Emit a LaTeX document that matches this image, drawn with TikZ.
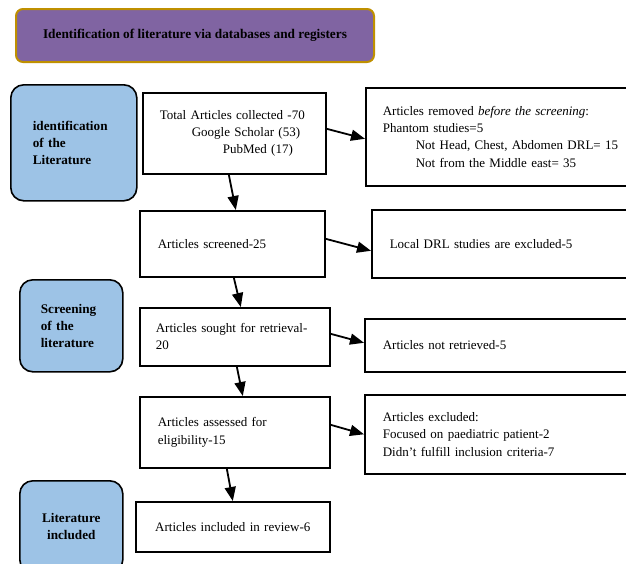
\documentclass[tikz,border=0pt]{standalone}
\usepackage{fontspec}
\setmainfont{Liberation Serif}
\usetikzlibrary{arrows.meta}
\definecolor{titlefill}{HTML}{8064A2}
\definecolor{titleline}{HTML}{BF9000}
\definecolor{stagefill}{HTML}{9DC3E6}

\begin{document}
\begin{tikzpicture}[x=1pt, y=-1pt,
		every node/.style={font=\fontsize{13}{17.3}\selectfont},
		stage/.style={draw, line width=1.6pt, fill=stagefill, rounded corners=13pt, anchor=north west,
			font=\fontsize{13.2}{17.3}\selectfont\bfseries},
		recbox/.style={draw, line width=1.6pt, anchor=north west, align=left, inner ysep=0pt},
		flow/.style={line width=1.8pt, -{Triangle[length=14pt,width=11pt]}}]
				\clip (0,0) rectangle (626,563);

				\node[draw=titleline, line width=2pt, fill=titlefill, rounded corners=7pt, anchor=north west,
					minimum width=358pt, minimum height=53pt, font=\fontsize{13.3}{17.3}\selectfont\bfseries]
					(title) at (15,8) {Identification of literature via databases and registers};

				\node[stage, minimum width=126pt, minimum height=116pt, inner xsep=22pt, text width=82pt, align=left]
					(ident) at (10,84) {identification\\of the\\Literature};
				\node[stage, minimum width=103pt, minimum height=92pt, inner xsep=21pt, text width=61pt, align=left]
					(screen) at (19,279) {Screening\\of the\\literature};
				\node[stage, minimum width=103pt, minimum height=92pt, inner xsep=10pt, text width=83pt, align=center]
					(incl) at (19,480) {Literature\\included};

				\node[recbox, minimum width=183pt, minimum height=81pt, inner xsep=17pt, text width=149pt]
					(total) at (142,92) {Total Articles collected -70\\\hspace*{32pt}Google Scholar (53)\\\hspace*{63pt}PubMed (17)};
				\node[recbox, minimum width=185pt, minimum height=66pt, inner xsep=18pt, text width=149pt]
					(screened) at (139,210) {Articles screened-25};
				\node[recbox, minimum width=190pt, minimum height=58pt, inner xsep=16pt, text width=158pt]
					(sought) at (139,307) {Articles sought for retrieval-\\20};
				\node[recbox, minimum width=190pt, minimum height=71pt, inner xsep=18pt, text width=154pt]
					(assessed) at (139,396) {Articles assessed for\\eligibility-15};
				\node[recbox, minimum width=194pt, minimum height=50pt, inner xsep=8pt, text width=178pt, align=center]
					(included) at (135,501) {Articles included in review-6};

				\node[recbox, minimum width=280pt, minimum height=98pt, inner xsep=17pt, text width=246pt]
					(removed) at (365,87) {Articles removed \textit{before the screening}:\\Phantom studies=5\\
					\hspace*{33pt}Not Head, Chest, Abdomen DRL= 15\\\hspace*{33pt}Not from the Middle east= 35};
				\node[recbox, minimum width=280pt, minimum height=68pt, inner xsep=18pt, text width=244pt]
					(local) at (371,209) {Local DRL studies are excluded-5};
				\node[recbox, minimum width=280pt, minimum height=53pt, inner xsep=18pt, text width=244pt]
					(notret) at (364,318) {Articles not retrieved-5};
				\node[recbox, minimum width=280pt, minimum height=79pt, inner xsep=18pt, text width=244pt]
					(excluded) at (364,394) {Articles excluded:\\Focused on paediatric patient-2\\Didn’t fulfill inclusion criteria-7};

				\draw[flow] ([yshift=4.5pt]total.east) -- ([yshift=-2pt]removed.west);
				\draw[flow] ([xshift=-5.5pt]total.south) -- ([xshift=3.5pt]screened.north);
				\draw[flow] ([yshift=5pt]screened.east) -- ([yshift=-7pt]local.west);
				\draw[flow] ([xshift=1.5pt]screened.south) -- ([xshift=6pt]sought.north);
				\draw[flow] ([yshift=3pt]sought.east) -- ([yshift=2.5pt]notret.west);
				\draw[flow] ([xshift=2pt]sought.south) -- ([xshift=8pt]assessed.north);
				\draw[flow] ([yshift=7.5pt]assessed.east) -- (excluded.west);
				\draw[flow] ([xshift=-8pt]assessed.south) -- (included.north);
			\end{tikzpicture}
\end{document}
